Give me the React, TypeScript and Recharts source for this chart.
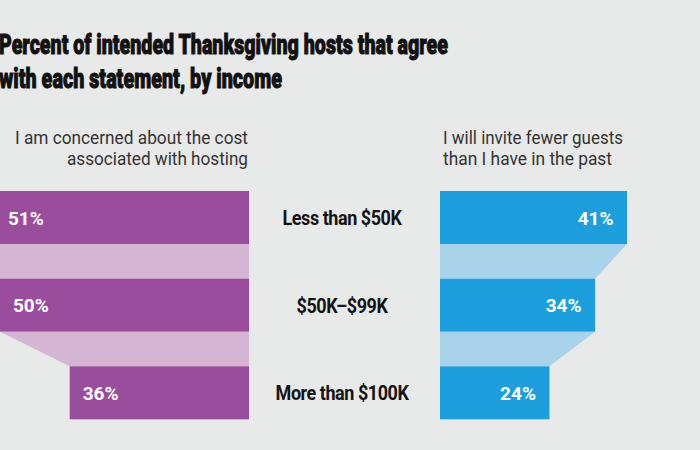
import React from 'react';
import { BarChart, Bar, XAxis, YAxis, LabelList } from 'recharts';

const groups = ['Less than $50K', '$50K–$99K', 'More than $100K'];
const costConcern = [51, 50, 36];
const fewerGuests = [41, 34, 24];
const titleLines = [
  'Percent of intended Thanksgiving hosts that agree',
  'with each statement, by income',
];
const costLines = ['I am concerned about the cost', 'associated with hosting'];
const guestLines = ['I will invite fewer guests', 'than I have in the past'];

const data = groups.map((group, i) => ({
  group,
  cost: costConcern[i],
  guests: fewerGuests[i],
}));

const BG = '#e8e9e9';
const PURPLE = '#9b4d9d';
const PURPLE_LIGHT = '#d5b5d4';
const BLUE = '#1d9fdd';
const BLUE_LIGHT = '#a8d3ea';
const FONT = 'Roboto, "Noto Sans", sans-serif';

const CHART_TOP = 174;
const CHART_H = 263;
const STEP = CHART_H / groups.length;

// bar + the pale trapezoid that leads down to the next bar
const FunnelBar = (props: any) => {
  const { x, y, width, height, index, side, values, fill, connector } = props;
  const left = Math.min(x, x + width);
  const right = Math.max(x, x + width);
  const w = right - left;
  const ppu = w / values[index];
  const next = values[index + 1];
  let conn = null;
  if (next != null) {
    const nextW = next * ppu;
    const yTop = y + height;
    const yBot = y + STEP;
    const pts =
      side === 'right'
        ? [[left, yTop], [right, yTop], [left + nextW, yBot], [left, yBot]]
        : [[right, yTop], [left, yTop], [right - nextW, yBot], [right, yBot]];
    conn = <polygon points={pts.map(p => p.join(',')).join(' ')} fill={connector} />;
  }
  return (
    <g>
      {conn}
      <rect x={left} y={y} width={w} height={height} fill={fill} />
    </g>
  );
};

const valueLabel = (side: 'left' | 'right') => (props: any) => {
  const { x, y, width, height, value } = props;
  const left = Math.min(x, x + width);
  const right = Math.max(x, x + width);
  return (
    <text
      x={side === 'left' ? left + 13 : right - 13.5}
      y={y + height / 2 + 7}
      textAnchor={side === 'left' ? 'start' : 'end'}
      fill="#fff"
      fontFamily={FONT}
      fontWeight={700}
      fontSize={19}
    >
      {value}%
    </text>
  );
};

const CategoryTick = (props: any) => {
  const { x, y, payload } = props;
  return (
    <text
      transform={`translate(${x - 98},${y + 7}) scale(0.9,1)`}
      textAnchor="middle"
      fill="#141414"
      fontFamily={FONT}
      fontWeight={700}
      fontSize={20}
      letterSpacing={-0.5}
    >
      {payload.value}
    </text>
  );
};

export default function App() {
  return (
    <div
      style={{
        position: 'absolute',
        left: 0,
        top: 0,
        width: 700,
        height: 450,
        overflow: 'hidden',
        background: BG,
      }}
    >
      <div style={{ position: 'absolute', left: -20, top: CHART_TOP }}>
        <BarChart
          width={269}
          height={CHART_H}
          data={data}
          layout="vertical"
          margin={{ top: 0, right: 0, bottom: 0, left: 0 }}
        >
          <XAxis type="number" domain={[0, 54]} reversed hide />
          <YAxis type="category" dataKey="group" hide />
          <Bar
            dataKey="cost"
            barSize={53}
            isAnimationActive={false}
            shape={(p: any) => (
              <FunnelBar {...p} side="left" values={costConcern} fill={PURPLE} connector={PURPLE_LIGHT} />
            )}
          >
            <LabelList dataKey="cost" content={valueLabel('left')} />
          </Bar>
        </BarChart>
      </div>

      <div style={{ position: 'absolute', left: 250, top: CHART_TOP }}>
        <BarChart
          width={450}
          height={CHART_H}
          data={data}
          layout="vertical"
          margin={{ top: 0, right: 0, bottom: 0, left: 0 }}
        >
          <XAxis type="number" domain={[0, 57]} hide />
          <YAxis
            type="category"
            dataKey="group"
            width={190}
            axisLine={false}
            tickLine={false}
            tickSize={0}
            tickMargin={0}
            tick={<CategoryTick />}
          />
          <Bar
            dataKey="guests"
            barSize={53}
            isAnimationActive={false}
            shape={(p: any) => (
              <FunnelBar {...p} side="right" values={fewerGuests} fill={BLUE} connector={BLUE_LIGHT} />
            )}
          >
            <LabelList dataKey="guests" content={valueLabel('right')} />
          </Bar>
        </BarChart>
      </div>

      <svg
        width={700}
        height={450}
        style={{ position: 'absolute', left: 0, top: 0, pointerEvents: 'none' }}
      >
        {titleLines.map((line, i) => (
          <text
            key={line}
            x={-1}
            y={54 + i * 34}
            textLength={i === 0 ? 449 : 283}
            lengthAdjust="spacingAndGlyphs"
            fill="#111"
            stroke="#111"
            strokeWidth={1}
            fontFamily={FONT}
            fontWeight={900}
            fontSize={28}
          >
            {line}
          </text>
        ))}
        {costLines.map((line, i) => (
          <text
            key={line}
            x={248}
            y={144 + i * 21}
            textAnchor="end"
            textLength={i === 0 ? 233 : 181}
            lengthAdjust="spacingAndGlyphs"
            fill="#333"
            fontFamily={FONT}
            fontSize={19}
          >
            {line}
          </text>
        ))}
        {guestLines.map((line, i) => (
          <text
            key={line}
            x={443}
            y={144 + i * 21}
            textLength={i === 0 ? 180 : 169}
            lengthAdjust="spacingAndGlyphs"
            fill="#333"
            fontFamily={FONT}
            fontSize={19}
          >
            {line}
          </text>
        ))}
      </svg>
    </div>
  );
}
